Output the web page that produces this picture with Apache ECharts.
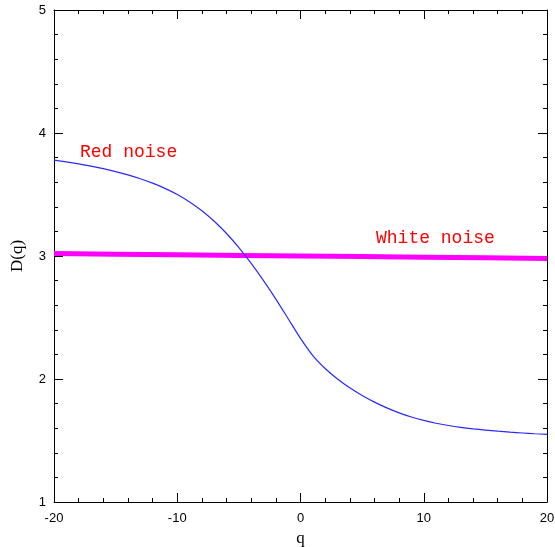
<!DOCTYPE html>
<html><head><meta charset="utf-8">
<script src="https://cdn.jsdelivr.net/npm/echarts@6/dist/echarts.min.js"></script>
<style>html,body{margin:0;padding:0;background:#fff}#c{width:555px;height:547px}</style>
</head><body><div id="c"></div>
<script>
var qRed = [-20,-19,-18,-17,-16,-15,-14,-13,-12,-11,-10,-9,-8,-7,-6,-5,-4,-3,-2,-1,0,1,2,3,4,5,6,7,8,9,10,11,12,13,14,15,16,17,18,19,20];
var dRed = [3.78,3.765,3.749,3.731,3.71,3.686,3.659,3.628,3.592,3.55,3.50,3.44,3.368,3.283,3.183,3.068,2.94,2.80,2.65,2.49,2.33,2.19,2.085,2.0,1.928,1.866,1.812,1.765,1.725,1.691,1.663,1.64,1.622,1.607,1.595,1.585,1.576,1.568,1.561,1.555,1.55];
var qWhite = [-20,-15,-10,-5,0,5,10,15,20];
var dWhite = [3.02,3.015,3.01,3.005,3.0,2.995,2.99,2.985,2.98];
var labelRed = "Red noise";
var labelWhite = "White noise";

var chart = echarts.init(document.getElementById('c'));
function pairs(a,b){return a.map(function(v,i){return [v,b[i]];});}
var font = "'Liberation Sans', Arial, sans-serif";
var serif = "'Liberation Serif', 'DejaVu Serif', serif";
var axisCommon = {
  axisLine:{show:true,onZero:false,lineStyle:{color:'#000',width:1}},
  axisTick:{show:true,inside:true,length:9,lineStyle:{color:'#000',width:1}},
  minorTick:{show:true,splitNumber:5,length:4,lineStyle:{color:'#000',width:1}},
  splitLine:{show:false}
};
function ax(extra){return Object.assign({}, JSON.parse(JSON.stringify(axisCommon)), extra);}
chart.setOption({
  animation:false,
  backgroundColor:'#fff',
  grid:{left:54,right:8,top:10,bottom:45,containLabel:false,outerBoundsMode:'none'},
  xAxis:[
    ax({type:'value',min:-20,max:20,interval:10,position:'bottom',name:'q',nameLocation:'middle',nameGap:26,
      nameTextStyle:{fontFamily:serif,fontSize:17,color:'#000'},
      axisLabel:{fontFamily:font,fontSize:13,color:'#000',margin:10}}),
    ax({type:'value',min:-20,max:20,interval:10,position:'top',axisLabel:{show:false}})
  ],
  yAxis:[
    ax({type:'value',min:1,max:5,interval:1,position:'left',name:'D(q)',nameLocation:'middle',nameGap:28,
      nameTextStyle:{fontFamily:serif,fontSize:17,color:'#000'},
      axisLabel:{fontFamily:font,fontSize:13,color:'#000',margin:8}}),
    ax({type:'value',min:1,max:5,interval:1,position:'right',axisLabel:{show:false}})
  ],
  series:[
    {type:'line',data:pairs(qWhite,dWhite),showSymbol:false,lineStyle:{color:'#ff00ff',width:5},z:2},
    {type:'line',data:pairs(qRed,dRed),smooth:0.3,showSymbol:false,lineStyle:{color:'#2a2aff',width:1.2},z:3}
  ],
  graphic:[
    {type:'text',left:80,top:143,style:{text:labelRed,fill:'#ff0000',font:"18px 'Liberation Mono', monospace"}},
    {type:'text',left:376,top:229,style:{text:labelWhite,fill:'#ff0000',font:"18px 'Liberation Mono', monospace"}}
  ]
});
</script></body></html>
